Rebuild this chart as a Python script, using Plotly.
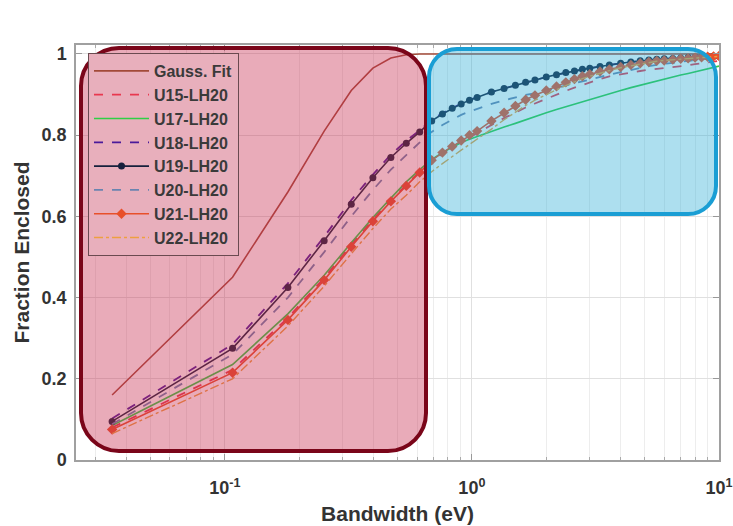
import math
import plotly.graph_objects as go

# ---------------- data ----------------
bandwidth = [0.035, 0.1075, 0.18, 0.2525, 0.325, 0.3975, 0.47, 0.5425, 0.615, 0.6875,
             0.76, 0.8325, 0.905, 0.9775, 1.05, 1.2, 1.35, 1.5, 1.65, 1.8,
             2.0, 2.2, 2.4, 2.6, 2.8, 3.0, 3.3, 3.6, 4.0, 4.4,
             4.8, 5.2, 5.6, 6.0, 6.5, 7.0, 7.5, 8.0, 8.5, 9.0, 9.5, 10.0]

gauss_fit = [0.16, 0.45, 0.66, 0.81, 0.91, 0.965, 0.99, 0.998, 1.0, 1.0,
             1.0, 1.0, 1.0, 1.0, 1.0, 1.0, 1.0, 1.0, 1.0, 1.0,
             1.0, 1.0, 1.0, 1.0, 1.0, 1.0, 1.0, 1.0, 1.0, 1.0,
             1.0, 1.0, 1.0, 1.0, 1.0, 1.0, 1.0, 1.0, 1.0, 1.0, 1.0, 1.0]

u15 = [0.08, 0.222, 0.35, 0.448, 0.53, 0.592, 0.64, 0.678, 0.71, 0.737,
       0.755, 0.77, 0.783, 0.795, 0.805, 0.825, 0.842, 0.856, 0.868, 0.878,
       0.89, 0.9, 0.909, 0.917, 0.924, 0.93, 0.938, 0.945, 0.95, 0.955,
       0.958, 0.961, 0.963, 0.966, 0.968, 0.97, 0.972, 0.975, 0.977, 0.979, 0.981, 0.983]

u17 = [0.085, 0.235, 0.36, 0.455, 0.535, 0.597, 0.645, 0.685, 0.715, 0.74,
       0.757, 0.77, 0.782, 0.79, 0.797, 0.81, 0.82, 0.829, 0.838, 0.846,
       0.855, 0.863, 0.87, 0.876, 0.882, 0.888, 0.896, 0.903, 0.91, 0.917,
       0.923, 0.928, 0.934, 0.938, 0.943, 0.948, 0.952, 0.956, 0.96, 0.964, 0.967, 0.97]

u18 = [0.102, 0.285, 0.435, 0.55, 0.64, 0.703, 0.752, 0.786, 0.812, 0.838,
       0.854, 0.867, 0.878, 0.887, 0.894, 0.906, 0.915, 0.923, 0.93, 0.936,
       0.943, 0.949, 0.954, 0.958, 0.962, 0.965, 0.969, 0.973, 0.977, 0.98,
       0.983, 0.985, 0.987, 0.988, 0.989, 0.99, 0.991, 0.992, 0.993, 0.993, 0.994, 0.994]

u19 = [0.095, 0.275, 0.425, 0.54, 0.63, 0.695, 0.745, 0.78, 0.808, 0.835,
       0.852, 0.866, 0.877, 0.886, 0.893, 0.906, 0.915, 0.923, 0.93, 0.936,
       0.943, 0.949, 0.954, 0.958, 0.962, 0.965, 0.969, 0.973, 0.977, 0.98,
       0.983, 0.985, 0.987, 0.988, 0.989, 0.99, 0.991, 0.992, 0.993, 0.993, 0.994, 0.994]

u20 = [0.088, 0.26, 0.4, 0.512, 0.6, 0.665, 0.715, 0.752, 0.782, 0.808,
       0.825, 0.838, 0.85, 0.858, 0.865, 0.877, 0.886, 0.893, 0.899, 0.903,
       0.91, 0.917, 0.923, 0.928, 0.933, 0.937, 0.943, 0.949, 0.955, 0.961,
       0.966, 0.97, 0.973, 0.975, 0.978, 0.981, 0.983, 0.985, 0.987, 0.988, 0.989, 0.99]

u21 = [0.075, 0.215, 0.345, 0.443, 0.525, 0.588, 0.637, 0.675, 0.708, 0.738,
       0.757, 0.772, 0.787, 0.8, 0.81, 0.835, 0.855, 0.872, 0.887, 0.898,
       0.91, 0.92, 0.93, 0.938, 0.945, 0.95, 0.957, 0.962, 0.968, 0.973,
       0.977, 0.98, 0.983, 0.984, 0.986, 0.988, 0.989, 0.991, 0.992, 0.993, 0.994, 0.995]

u22 = [0.065, 0.2, 0.33, 0.428, 0.508, 0.57, 0.618, 0.652, 0.685, 0.71,
       0.73, 0.748, 0.763, 0.777, 0.79, 0.815, 0.838, 0.857, 0.873, 0.886,
       0.9, 0.912, 0.922, 0.931, 0.939, 0.945, 0.953, 0.959, 0.966, 0.971,
       0.975, 0.979, 0.982, 0.984, 0.986, 0.988, 0.989, 0.99, 0.991, 0.992, 0.993, 0.994]

series_names = ["Gauss. Fit", "U15-LH20", "U17-LH20", "U18-LH20", "U19-LH20",
                "U20-LH20", "U21-LH20", "U22-LH20"]
series_values = [gauss_fit, u15, u17, u18, u19, u20, u21, u22]

x_tick_vals = [0.1, 1, 10]
x_tick_text = ["10<sup>-1</sup>", "10<sup>0</sup>", "10<sup>1</sup>"]
x_minor_vals = [0.03, 0.04, 0.05, 0.06, 0.07, 0.08, 0.09,
                0.2, 0.3, 0.4, 0.5, 0.6, 0.7, 0.8, 0.9,
                2, 3, 4, 5, 6, 7, 8, 9]
y_tick_vals = [0, 0.2, 0.4, 0.6, 0.8, 1.0]
y_tick_text = ["0", "0.2", "0.4", "0.6", "0.8", "1"]

# ---------------- styles ----------------
styles = [
    dict(line=dict(color="#a24a38", width=1.6), mode="lines"),
    dict(line=dict(color="#e8384f", width=1.8, dash="dash"), mode="lines"),
    dict(line=dict(color="#2fcf45", width=1.6), mode="lines"),
    dict(line=dict(color="#4a1a9a", width=1.8, dash="dash"), mode="lines"),
    dict(line=dict(color="#16203c", width=1.6), mode="lines+markers",
         marker=dict(symbol="circle", size=7, color="#16203c")),
    dict(line=dict(color="#6a84b0", width=1.8, dash="dash"), mode="lines"),
    dict(line=dict(color="#e8502a", width=1.6), mode="lines+markers",
         marker=dict(symbol="diamond", size=8, color="#e8502a")),
    dict(line=dict(color="#eda040", width=1.4, dash="dashdot"), mode="lines"),
]

fig = go.Figure()
for i, (name, vals) in enumerate(zip(series_names, series_values)):
    st = styles[i]
    fig.add_trace(go.Scatter(x=bandwidth, y=vals, name=name,
                             mode=st["mode"], line=st["line"],
                             marker=st.get("marker", None)))

# ---------------- layout geometry ----------------
W, H = 733, 526
ML, MR, MT, MB = 76, 14, 45, 66
PW, PH = W - ML - MR, H - MT - MB


def px2paper(px, py):
    return (px - ML) / PW, (H - MB - py) / PH


def rounded_rect(x0, y0, x1, y1, r):
    L, T = px2paper(x0, y0)
    R, B = px2paper(x1, y1)
    rx, ry = r / PW, r / PH
    k = 1 - 0.5523
    p = (f"M {L+rx},{T} L {R-rx},{T} "
         f"C {R-rx*k},{T} {R},{T-ry*k} {R},{T-ry} "
         f"L {R},{B+ry} "
         f"C {R},{B+ry*k} {R-rx*k},{B} {R-rx},{B} "
         f"L {L+rx},{B} "
         f"C {L+rx*k},{B} {L},{B+ry*k} {L},{B+ry} "
         f"L {L},{T-ry} "
         f"C {L},{T-ry*k} {L+rx*k},{T} {L+rx},{T} Z")
    return p


shapes = [
    dict(type="path", xref="paper", yref="paper", layer="above",
         path=rounded_rect(81, 48, 426, 451, 38),
         fillcolor="rgba(200,45,80,0.40)", line=dict(color="#7a0519", width=4)),
    dict(type="path", xref="paper", yref="paper", layer="above",
         path=rounded_rect(429, 49, 716, 214, 28),
         fillcolor="rgba(40,170,212,0.38)", line=dict(color="#1a9ed4", width=4)),
]

lx, ly = px2paper(88, 53)

font_family = "Liberation Sans, Arial, Helvetica, sans-serif"

fig.update_layout(
    width=W, height=H,
    margin=dict(l=ML, r=MR, t=MT, b=MB, autoexpand=False),
    paper_bgcolor="white", plot_bgcolor="white",
    font=dict(family=font_family, color="#333333"),
    shapes=shapes,
    showlegend=True,
    legend=dict(x=lx, y=ly, xanchor="left", yanchor="top",
                bgcolor="rgb(232,175,188)", bordercolor="#6a4a50", borderwidth=1,
                font=dict(size=16, family=font_family, color="#3a3a3a", weight="bold"),
                itemwidth=55),
    xaxis=dict(type="log", range=[math.log10(0.025), 1], automargin=False,
               tickvals=x_tick_vals, ticktext=x_tick_text,
               ticks="inside", ticklen=6, tickcolor="#999",
               showline=True, linecolor="#a0a0a0", linewidth=1.5, mirror="ticks",
               showgrid=True, gridcolor="#e0e0e0", gridwidth=1,
               minor=dict(tickvals=x_minor_vals, showgrid=True, gridcolor="#ededed",
                          ticks="inside", ticklen=3, tickcolor="#aaa"),
               tickfont=dict(size=18, family=font_family, color="#333", weight="bold"),
               ticklabelstandoff=11,
               title=dict(text="Bandwidth (eV)", standoff=9,
                          font=dict(size=21, family=font_family, color="#333", weight="bold")),
               zeroline=False),
    yaxis=dict(range=[0, 1.022], tickvals=y_tick_vals, ticktext=y_tick_text, automargin=False,
               ticks="inside", ticklen=6, tickcolor="#999",
               showline=True, linecolor="#a0a0a0", linewidth=1.5, mirror="ticks",
               showgrid=True, gridcolor="#e0e0e0", gridwidth=1,
               tickfont=dict(size=18, family=font_family, color="#333", weight="bold"),
               ticklabelstandoff=4,
               title=dict(text="Fraction Enclosed", standoff=6,
                          font=dict(size=21, family=font_family, color="#333", weight="bold")),
               zeroline=False),
)

fig.write_html("out.html")
